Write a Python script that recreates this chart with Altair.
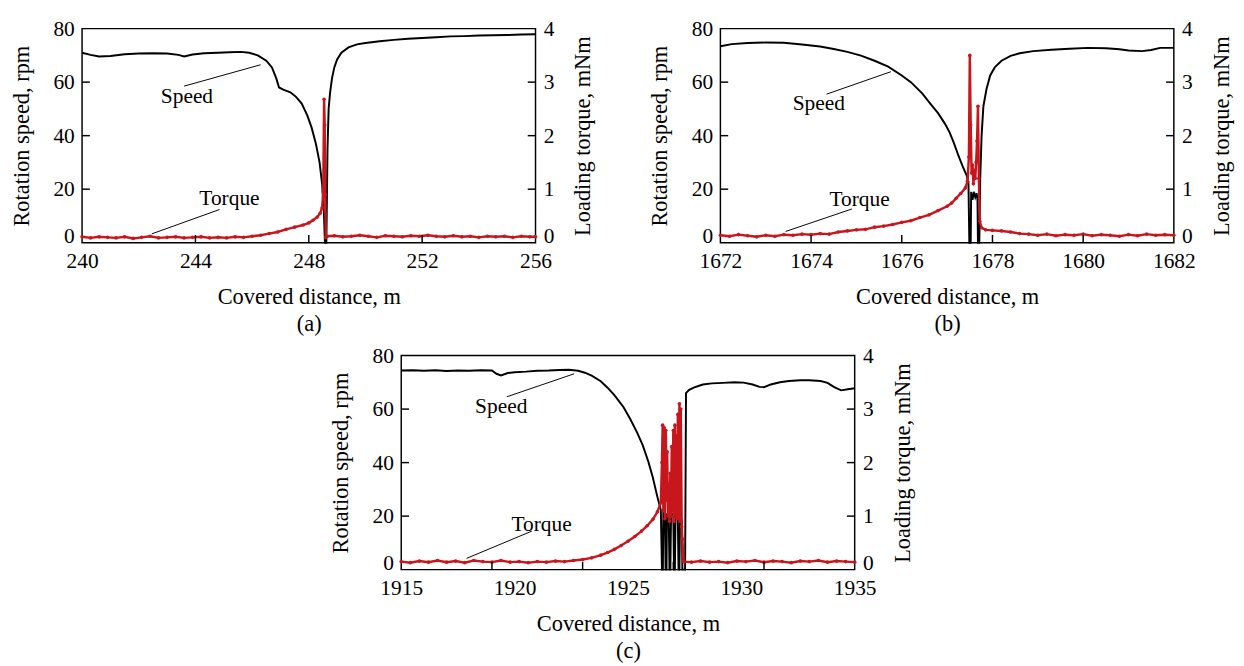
import altair as alt
import pandas as pd

FONT = "Liberation Serif"
RED = "#c8161d"
W, H = 466, 220
LFS = 22   # tick label size
TFS = 23   # axis title size

# ---------------- data ----------------
# (a)
a_speed = [(240.0, 71.0), (240.3, 70.2), (240.6, 69.6), (241.0, 69.8), (241.5, 70.4), (242.0, 70.7),
           (242.5, 70.8), (243.0, 70.7), (243.4, 70.2), (243.6, 69.6), (243.9, 70.3), (244.3, 70.8),
           (244.8, 71.0), (245.2, 71.2), (245.6, 71.3), (245.9, 71.0), (246.2, 70.0), (246.5, 68.0),
           (246.7, 65.5), (246.85, 61.5), (246.95, 58.0), (247.1, 57.2), (247.35, 56.2), (247.55, 54.5),
           (247.75, 52.0), (247.95, 47.5), (248.1, 43.0), (248.25, 37.0), (248.38, 30.0), (248.47, 22.0),
           (248.53, 12.0), (248.57, 0.0), (248.62, 0.0), (248.66, 35.0), (248.7, 50.0), (248.75, 56.0),
           (248.82, 61.5), (248.9, 65.5), (249.0, 68.5), (249.15, 71.0), (249.4, 73.0), (249.7, 74.1),
           (250.0, 74.6), (250.5, 75.3), (251.0, 75.8), (251.5, 76.2), (252.0, 76.5), (252.5, 76.8),
           (253.0, 77.1), (253.5, 77.2), (254.0, 77.4), (254.5, 77.5), (255.0, 77.6), (255.5, 77.8),
           (256.0, 77.9)]
a_torque = [(240.0, 0.11), (240.3, 0.09), (240.6, 0.11), (240.9, 0.10), (241.2, 0.09), (241.5, 0.11),
            (241.8, 0.08), (242.1, 0.10), (242.4, 0.12), (242.7, 0.09), (243.0, 0.10), (243.3, 0.11),
            (243.6, 0.09), (243.9, 0.10), (244.2, 0.11), (244.5, 0.09), (244.8, 0.10), (245.1, 0.09),
            (245.4, 0.11), (245.7, 0.10), (246.0, 0.12), (246.3, 0.14), (246.6, 0.17), (246.9, 0.20),
            (247.2, 0.25), (247.5, 0.29), (247.8, 0.33), (248.0, 0.37), (248.15, 0.42), (248.3, 0.48),
            (248.4, 0.55), (248.47, 0.65), (248.51, 0.95), (248.54, 2.68), (248.56, 2.2), (248.58, 0.9),
            (248.6, 0.10), (248.65, 0.12), (248.9, 0.13), (249.2, 0.11), (249.5, 0.12), (249.8, 0.14),
            (250.1, 0.12), (250.4, 0.10), (250.7, 0.13), (251.0, 0.12), (251.3, 0.11), (251.6, 0.13),
            (251.9, 0.12), (252.2, 0.14), (252.5, 0.12), (252.8, 0.11), (253.1, 0.13), (253.4, 0.11),
            (253.7, 0.12), (254.0, 0.10), (254.3, 0.12), (254.6, 0.11), (254.9, 0.12), (255.2, 0.10),
            (255.5, 0.12), (255.8, 0.11), (256.0, 0.11)]
a_domain = [240, 256]
a_labels = [240, 244, 248, 252, 256]
a_minor = [244, 248, 252]

# (b)
b_speed = [(1672.0, 73.4), (1672.25, 74.2), (1672.6, 74.6), (1673.0, 74.8), (1673.4, 74.7), (1673.8, 74.1),
           (1674.2, 73.3), (1674.5, 72.4), (1674.8, 71.3), (1675.1, 69.9), (1675.4, 68.0), (1675.7, 65.8),
           (1676.0, 62.5), (1676.2, 60.0), (1676.45, 55.8), (1676.65, 51.5), (1676.8, 48.4), (1676.95, 44.5),
           (1677.05, 41.4), (1677.15, 37.2), (1677.25, 32.5), (1677.35, 28.2), (1677.43, 25.2), (1677.47, 22.5),
           (1677.49, 0.0), (1677.52, 0.0), (1677.53, 19.0), (1677.56, 16.0), (1677.59, 19.0), (1677.62, 17.0),
           (1677.65, 18.5), (1677.67, 16.0), (1677.68, 0.0), (1677.71, 0.0), (1677.73, 24.0), (1677.76, 40.0),
           (1677.8, 51.0), (1677.87, 57.5), (1677.95, 62.5), (1678.05, 65.5), (1678.2, 68.0), (1678.4, 69.8),
           (1678.6, 70.8), (1678.9, 71.6), (1679.3, 72.1), (1679.7, 72.5), (1680.1, 72.8), (1680.5, 72.7),
           (1680.8, 72.3), (1681.0, 71.8), (1681.3, 71.6), (1681.5, 72.0), (1681.7, 72.8), (1682.0, 72.8)]
b_torque = [(1672.0, 0.14), (1672.2, 0.12), (1672.4, 0.15), (1672.6, 0.13), (1672.8, 0.11), (1673.0, 0.14),
            (1673.2, 0.12), (1673.4, 0.15), (1673.6, 0.14), (1673.8, 0.16), (1674.0, 0.15), (1674.2, 0.17),
            (1674.4, 0.16), (1674.6, 0.20), (1674.8, 0.22), (1675.0, 0.24), (1675.2, 0.25), (1675.4, 0.29),
            (1675.6, 0.31), (1675.8, 0.34), (1676.0, 0.38), (1676.2, 0.41), (1676.4, 0.47), (1676.6, 0.52),
            (1676.8, 0.60), (1677.0, 0.68), (1677.1, 0.74), (1677.2, 0.83), (1677.3, 0.92), (1677.4, 1.02),
            (1677.45, 1.15), (1677.48, 1.6), (1677.5, 3.5), (1677.52, 2.2), (1677.54, 1.3), (1677.56, 1.45),
            (1677.58, 1.1), (1677.6, 1.35), (1677.62, 1.2), (1677.64, 1.5), (1677.66, 1.9), (1677.68, 2.55),
            (1677.7, 1.2), (1677.72, 0.4), (1677.76, 0.28), (1677.85, 0.24), (1678.0, 0.23), (1678.2, 0.22),
            (1678.4, 0.20), (1678.6, 0.17), (1678.8, 0.16), (1679.0, 0.14), (1679.2, 0.16), (1679.4, 0.13),
            (1679.6, 0.15), (1679.8, 0.14), (1680.0, 0.16), (1680.2, 0.13), (1680.4, 0.15), (1680.6, 0.14),
            (1680.8, 0.12), (1681.0, 0.15), (1681.2, 0.13), (1681.4, 0.16), (1681.6, 0.14), (1681.8, 0.15),
            (1682.0, 0.14)]
b_domain = [1672, 1682]
b_labels = [1672, 1674, 1676, 1678, 1680, 1682]
b_minor = [1674, 1676, 1678, 1680]

# (c)
c_speed = [(1915.0, 74.4), (1915.5, 74.5), (1916.0, 74.3), (1916.5, 74.5), (1917.0, 74.2), (1917.5, 74.4),
           (1918.0, 74.3), (1918.5, 74.5), (1919.0, 74.4), (1919.2, 73.2), (1919.4, 72.6), (1919.7, 73.5),
           (1920.0, 73.8), (1920.5, 74.0), (1921.0, 74.3), (1921.5, 74.4), (1922.0, 74.6), (1922.4, 74.7),
           (1922.8, 74.3), (1923.1, 73.6), (1923.4, 72.5), (1923.8, 70.4), (1924.1, 68.0), (1924.4, 65.2),
           (1924.8, 60.8), (1925.1, 56.3), (1925.4, 51.3), (1925.65, 46.5), (1925.9, 40.3), (1926.1, 34.3),
           (1926.3, 27.1), (1926.45, 22.3), (1926.5, 0.0), (1926.54, 0.0), (1926.56, 22.0), (1926.63, 20.0),
           (1926.66, 0.0), (1926.7, 0.0), (1926.72, 21.0), (1926.8, 19.0), (1926.83, 0.0), (1926.87, 0.0),
           (1926.9, 20.0), (1927.0, 21.0), (1927.03, 0.0), (1927.07, 0.0), (1927.1, 22.0), (1927.2, 19.0),
           (1927.23, 0.0), (1927.27, 0.0), (1927.3, 21.0), (1927.38, 18.0), (1927.4, 0.0), (1927.52, 0.0),
           (1927.56, 66.0), (1927.7, 67.2), (1927.9, 68.0), (1928.3, 69.2), (1928.7, 69.6), (1929.2, 69.8),
           (1929.7, 70.0), (1930.1, 69.9), (1930.5, 69.2), (1930.8, 68.3), (1931.0, 68.2), (1931.3, 69.2),
           (1931.7, 70.0), (1932.1, 70.5), (1932.6, 70.8), (1933.0, 70.8), (1933.5, 70.5), (1933.8, 69.8),
           (1934.1, 68.2), (1934.4, 67.0), (1934.7, 67.4), (1935.0, 67.8)]
c_torque = [(1915.0, 0.15), (1915.4, 0.13), (1915.8, 0.16), (1916.2, 0.14), (1916.6, 0.17), (1917.0, 0.14),
            (1917.4, 0.16), (1917.8, 0.13), (1918.2, 0.17), (1918.6, 0.15), (1919.0, 0.14), (1919.4, 0.17),
            (1919.8, 0.14), (1920.2, 0.15), (1920.6, 0.13), (1921.0, 0.15), (1921.4, 0.14), (1921.8, 0.16),
            (1922.2, 0.15), (1922.6, 0.17), (1923.0, 0.19), (1923.4, 0.22), (1923.8, 0.27), (1924.1, 0.32),
            (1924.4, 0.38), (1924.7, 0.45), (1925.0, 0.53), (1925.3, 0.62), (1925.6, 0.72), (1925.85, 0.82),
            (1926.1, 0.94), (1926.3, 1.08), (1926.45, 1.25), (1926.5, 2.0), (1926.53, 2.7), (1926.56, 1.1),
            (1926.6, 2.65), (1926.63, 0.95), (1926.67, 2.6), (1926.7, 1.3), (1926.73, 2.2), (1926.77, 1.0),
            (1926.8, 1.6), (1926.83, 0.9), (1926.87, 1.8), (1926.9, 1.0), (1926.93, 2.3), (1926.97, 1.1),
            (1927.0, 2.6), (1927.03, 0.9), (1927.07, 2.7), (1927.1, 1.0), (1927.13, 2.5), (1927.17, 0.95),
            (1927.2, 2.9), (1927.23, 1.0), (1927.27, 3.1), (1927.3, 0.9), (1927.33, 3.0), (1927.37, 0.8),
            (1927.4, 0.57), (1927.45, 0.15), (1927.8, 0.14), (1928.2, 0.16), (1928.6, 0.14), (1929.0, 0.15),
            (1929.4, 0.13), (1929.8, 0.16), (1930.2, 0.15), (1930.6, 0.17), (1931.0, 0.14), (1931.4, 0.16),
            (1931.8, 0.15), (1932.2, 0.13), (1932.6, 0.16), (1933.0, 0.15), (1933.4, 0.17), (1933.8, 0.14),
            (1934.2, 0.16), (1934.6, 0.15), (1935.0, 0.14)]
c_domain = [1915, 1935]
c_labels = [1915, 1920, 1925, 1930, 1935]
c_minor = [1919, 1923, 1927, 1931]

speed_ticks = [0, 20, 40, 60, 80]
torque_ticks = [0, 1, 2, 3, 4]

# annotation texts (label, x, y) and leader lines (x, y, x2, y2), speed units
a_notes = [("Speed", 243.7, 54.9, 243.6, 58.5, 246.3, 66.5),
           ("Torque", 245.2, 16.7, 242.46, 3.3, 244.85, 12.4)]
b_notes = [("Speed", 1674.17, 52.2, 1674.34, 55.5, 1675.76, 63.9),
           ("Torque", 1675.07, 16.2, 1673.44, 4.2, 1674.9, 12.6)]
c_notes = [("Speed", 1919.41, 61.0, 1919.66, 64.6, 1922.63, 73.2),
           ("Torque", 1921.19, 16.8, 1917.88, 4.2, 1920.76, 14.4)]

# the "0" label of each vertical axis sits just above the bottom edge
ZERO_BASELINE = {"condition": {"test": "datum.value === 0", "value": "alphabetic"}, "value": "middle"}


def panel(speed, torque, domain, labels, minor, tag, notes):
    sdf = pd.DataFrame(speed, columns=["x", "v"])
    sdf["i"] = range(len(sdf))
    tdf = pd.DataFrame(torque, columns=["x", "t"])
    tdf["i"] = range(len(tdf))
    ndf = pd.DataFrame(notes, columns=["label", "tx", "ty", "x1", "y1", "x2", "y2"])
    mdf = pd.DataFrame({"x": minor})
    ldf = pd.DataFrame({"v": speed_ticks[1:-1]})
    rdf = pd.DataFrame({"t": torque_ticks[1:-1]})

    xs = alt.Scale(domain=domain, nice=False, zero=False)
    ys = alt.Scale(domain=[0, 80], nice=False)
    ts = alt.Scale(domain=[0, 4], nice=False)

    xaxis = alt.Axis(values=labels, format="d", title=["Covered distance, m", tag],
                     ticks=False, domain=False, grid=False, labelFlush=False,
                     labelOverlap=False, labelPadding=9, titlePadding=15, titleLineHeight=27)
    yaxis = alt.Axis(values=speed_ticks, title="Rotation speed, rpm", ticks=False,
                     domain=False, grid=False, labelPadding=8, titlePadding=20,
                     labelBaseline=ZERO_BASELINE)
    taxis = alt.Axis(values=torque_ticks, title="Loading torque, mNm", orient="right", ticks=False,
                     domain=False, grid=False, labelPadding=8, titlePadding=19,
                     titleAngle=270, titleBaseline="top", labelBaseline=ZERO_BASELINE)

    line = alt.Chart(sdf).mark_line(color="black", strokeWidth=2).encode(
        x=alt.X("x:Q", scale=xs, axis=xaxis),
        y=alt.Y("v:Q", scale=ys, axis=yaxis),
        order="i:Q")
    xt = alt.Chart(mdf).mark_rule(color="black", strokeWidth=1.5).encode(
        x=alt.X("x:Q", scale=xs, axis=None), y=alt.value(H), y2=alt.value(H - 8))
    yt = alt.Chart(ldf).mark_rule(color="black", strokeWidth=1.5).encode(
        y=alt.Y("v:Q", scale=ys, axis=None), x=alt.value(0), x2=alt.value(8))
    lead = alt.Chart(ndf).mark_rule(color="black", strokeWidth=1).encode(
        x=alt.X("x1:Q", scale=xs, axis=None), x2="x2:Q",
        y=alt.Y("y1:Q", scale=ys, axis=None), y2="y2:Q")
    txt = alt.Chart(ndf).mark_text(font=FONT, fontSize=22, color="black").encode(
        x=alt.X("tx:Q", scale=xs, axis=None), y=alt.Y("ty:Q", scale=ys, axis=None), text="label:N")

    tline = alt.Chart(tdf).mark_line(color=RED, strokeWidth=2.5).encode(
        x=alt.X("x:Q", scale=xs, axis=None),
        y=alt.Y("t:Q", scale=ts, axis=taxis),
        order="i:Q")
    tpts = alt.Chart(tdf).mark_circle(color=RED, size=14, opacity=1).encode(
        x=alt.X("x:Q", scale=xs, axis=None), y=alt.Y("t:Q", scale=ts, axis=None))
    rt = alt.Chart(rdf).mark_rule(color="black", strokeWidth=1.5).encode(
        y=alt.Y("t:Q", scale=ts, axis=None), x=alt.value(W - 8), x2=alt.value(W))

    return alt.layer(line, tline, tpts, rt, xt, yt, lead, txt).resolve_scale(
        y="independent").resolve_axis(x="independent").properties(width=W, height=H)


pa = panel(a_speed, a_torque, a_domain, a_labels, a_minor, "(a)", a_notes)
pb = panel(b_speed, b_torque, b_domain, b_labels, b_minor, "(b)", b_notes)
pc = panel(c_speed, c_torque, c_domain, c_labels, c_minor, "(c)", c_notes)

top = alt.hconcat(pa, pb, spacing=54)
chart = alt.vconcat(top, pc, spacing=8, center=True).properties(
    padding={"left": 2, "top": 0, "right": 2, "bottom": 0}
).configure_view(stroke="black", strokeWidth=1.5).configure_axis(
    labelFont=FONT, titleFont=FONT, labelFontSize=LFS, titleFontSize=TFS,
    titleFontWeight="normal", labelColor="black", titleColor="black"
)

chart.save("out.html", embed_options={"renderer": "svg", "actions": False})
